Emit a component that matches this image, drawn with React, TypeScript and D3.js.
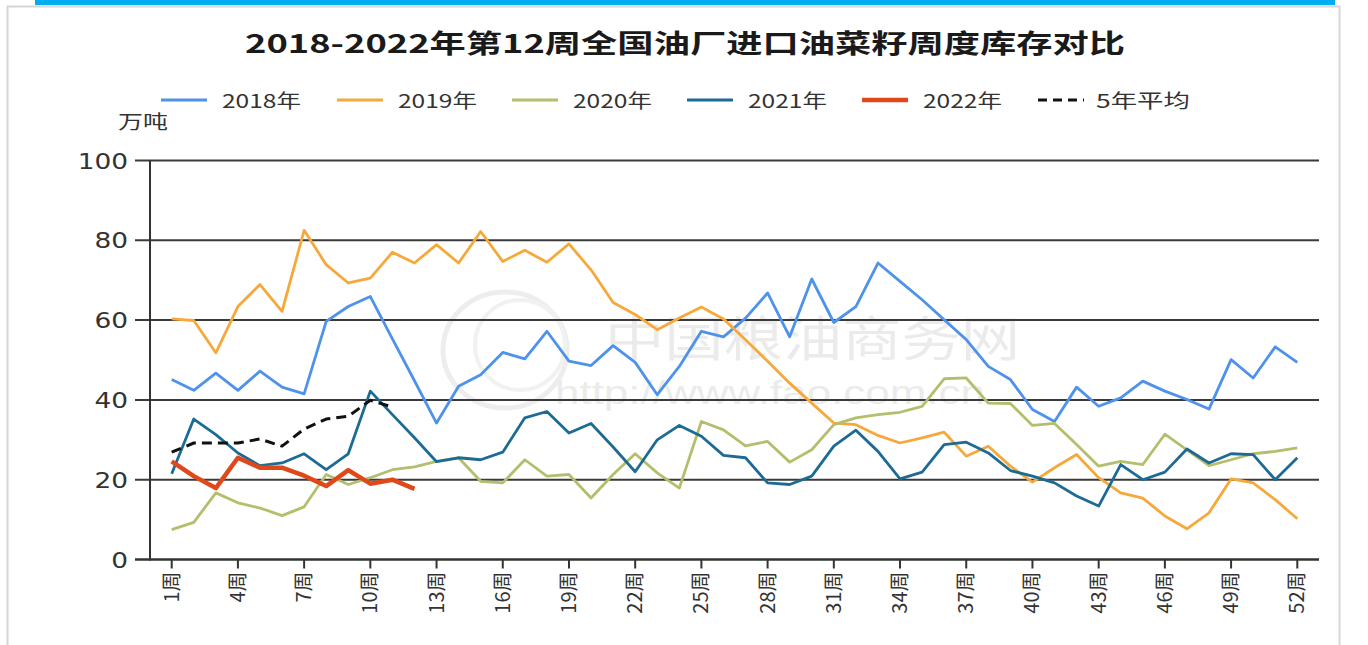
import React from "react";
import * as d3 from "d3";

const weeks: number[] = d3.range(1, 53);
const tickWeeks: number[] = [1, 4, 7, 10, 13, 16, 19, 22, 25, 28, 31, 34, 37, 40, 43, 46, 49, 52];
const yTicks: number[] = [0, 20, 40, 60, 80, 100];

const y2018: number[] = [45.1, 42.4, 46.7, 42.4, 47.2, 43.2, 41.5, 59.7, 63.4, 65.9, 55.3, 44.8, 34.2, 43.4, 46.3, 51.9, 50.3, 57.2, 49.7, 48.6, 53.6, 49.4, 41.3, 48.4, 57.2, 55.8, 60.5, 66.8, 55.8, 70.3, 59.4, 63.4, 74.3, 69.7, 65.1, 60.1, 55.1, 48.4, 45.1, 37.6, 34.6, 43.2, 38.4, 40.5, 44.7, 42.2, 40.1, 37.7, 50.1, 45.5, 53.3, 49.4];
const y2019: number[] = [60.3, 59.9, 51.8, 63.4, 68.9, 62.2, 82.5, 73.9, 69.3, 70.5, 77.0, 74.3, 78.9, 74.3, 82.2, 74.7, 77.5, 74.5, 79.1, 72.6, 64.4, 61.4, 57.6, 60.5, 63.3, 60.3, 55.1, 49.7, 44.2, 39.2, 34.2, 33.8, 31.1, 29.2, 30.5, 31.9, 25.9, 28.4, 23.4, 19.4, 23.0, 26.3, 20.5, 16.7, 15.4, 10.9, 7.7, 11.7, 20.2, 19.2, 15.0, 10.2];
const y2020: number[] = [7.5, 9.3, 16.7, 14.2, 12.9, 11.0, 13.2, 21.3, 18.8, 20.5, 22.5, 23.2, 24.6, 25.5, 19.6, 19.2, 25.0, 20.9, 21.3, 15.4, 21.3, 26.5, 21.7, 17.9, 34.6, 32.5, 28.5, 29.6, 24.4, 27.5, 33.8, 35.5, 36.3, 36.9, 38.4, 45.3, 45.5, 39.2, 39.1, 33.6, 34.1, 28.8, 23.4, 24.6, 23.8, 31.4, 27.5, 23.5, 25.0, 26.5, 27.1, 28.0];
const y2021: number[] = [21.5, 35.2, 31.3, 26.7, 23.5, 24.2, 26.5, 22.5, 26.5, 42.2, 36.3, 30.5, 24.5, 25.5, 25.0, 26.9, 35.5, 37.1, 31.7, 34.1, 28.2, 22.0, 30.0, 33.6, 30.9, 26.1, 25.5, 19.2, 18.8, 20.9, 28.4, 32.4, 27.1, 20.2, 21.9, 28.8, 29.4, 26.7, 22.3, 20.9, 19.2, 15.9, 13.4, 23.8, 20.0, 21.9, 27.7, 24.2, 26.5, 26.3, 20.0, 25.5];
const y2022: number[] = [24.6, 20.9, 17.9, 25.5, 23.0, 23.0, 21.0, 18.4, 22.4, 19.0, 20.0, 17.7];
const avg5: number[] = [26.9, 29.2, 29.2, 29.2, 30.2, 28.4, 32.7, 35.2, 35.9, 39.9, 38.2];

const seriesNames: string[] = ["2018年", "2019年", "2020年", "2021年", "2022年", "5年平均"];
const seriesData: number[][] = [y2018, y2019, y2020, y2021, y2022, avg5];
const seriesColors: string[] = ["#4E92EC", "#F6A93A", "#B4BE6C", "#1C6B95", "#E0481A", "#111111"];
const seriesWidths: number[] = [2.8, 2.8, 2.8, 2.8, 4.5, 3];
const seriesDash: (string | undefined)[] = [undefined, undefined, undefined, undefined, undefined, "10,6"];

const title = "2018-2022年第12周全国油厂进口油菜籽周度库存对比";
const yUnit = "万吨";

const FONT = "'Noto Sans CJK SC', 'Liberation Sans', Arial, sans-serif";

export default function App() {
  const x = d3.scaleLinear().domain([1, 52]).range([171.7, 1297.3]);
  const y = d3.scaleLinear().domain([0, 100]).range([559.5, 160.5]);
  const plotLeft = 150;
  const plotRight = 1319;

  const lineGen = d3
    .line<number>()
    .x((_, i) => x(weeks[i]))
    .y((d) => y(d));

  const legendLineX = [161, 337, 512, 687, 862, 1038];
  const legendTextX = [222, 398, 573, 748, 923, 1096];
  const legendTextLen = [79, 79, 79, 79, 79, 94];

  return (
    <svg
      width={1368}
      height={645}
      style={{ position: "absolute", left: 0, top: 0, display: "block", background: "#fff" }}
      fontFamily={FONT}
    >
      <rect x={0} y={0} width={1368} height={645} fill="#ffffff" />
      <rect x={7.5} y={6.5} width={1332} height={660} fill="#ffffff" stroke="#d6d6d6" strokeWidth={2} />
      <rect x={35} y={0} width={1300} height={5} fill="#00AEEF" />

      {/* watermark */}
      <g opacity={0.45}>
        <ellipse cx={505} cy={350} rx={62} ry={58} fill="none" stroke="#d9d9d9" strokeWidth={5} />
        <ellipse cx={520} cy={345} rx={45} ry={45} fill="none" stroke="#e2e2e2" strokeWidth={4} />
        <text x={605} y={356} fontSize={48} fill="#d4d4d4" textLength={415} lengthAdjust="spacingAndGlyphs">
          中国粮油商务网
        </text>
        <text x={555} y={404} fontSize={34} fill="#d4d4d4" textLength={430} lengthAdjust="spacingAndGlyphs" fontFamily="'Liberation Sans', Arial, sans-serif">
          http://www.fao.com.cn
        </text>
      </g>

      {/* title */}
      <text
        x={245}
        y={53}
        fontSize={26}
        fontWeight="bold"
        fill="#1a1a1a"
        textLength={880}
        lengthAdjust="spacingAndGlyphs"
      >
        {title}
      </text>

      {/* legend */}
      {seriesNames.map((name, i) => (
        <g key={name}>
          <line
            x1={legendLineX[i]}
            x2={legendLineX[i] + 46}
            y1={100}
            y2={100}
            stroke={seriesColors[i]}
            strokeWidth={i === 4 ? 4.5 : 3}
            strokeDasharray={i === 5 ? "9,6" : undefined}
          />
          <text
            x={legendTextX[i]}
            y={108}
            fontSize={19}
            fill="#333"
            textLength={legendTextLen[i]}
            lengthAdjust="spacingAndGlyphs"
          >
            {name}
          </text>
        </g>
      ))}

      {/* unit */}
      <text x={118} y={129} fontSize={19} fill="#333" textLength={50} lengthAdjust="spacingAndGlyphs">
        {yUnit}
      </text>

      {/* gridlines and y ticks */}
      {yTicks.map((t) => (
        <g key={t}>
          <line x1={135} x2={plotRight} y1={y(t)} y2={y(t)} stroke="#3a3a3a" strokeWidth={2} />
          <g transform={`translate(128,${y(t) + 8})`}>
            <text
              fontSize={22}
              fill="#333"
              textAnchor="end"
              transform="scale(1.2,1)"
              fontFamily="'DejaVu Sans', 'Liberation Sans', sans-serif"
            >
              {t}
            </text>
          </g>
        </g>
      ))}

      {/* axes */}
      <line x1={plotLeft} x2={plotLeft} y1={y(100)} y2={y(0) + 1} stroke="#333" strokeWidth={2} />
      <line x1={135} x2={plotRight} y1={y(0)} y2={y(0)} stroke="#333" strokeWidth={2} />

      {/* x ticks */}
      {tickWeeks.map((w) => (
        <g key={w}>
          <line x1={x(w)} x2={x(w)} y1={y(0)} y2={y(0) + 9} stroke="#333" strokeWidth={2} />
          <text
            transform={`translate(${x(w) + 7},${y(0) + 12}) rotate(-90)`}
            fontSize={20}
            fill="#333"
            textAnchor="end"
          >
            {`${w}周`}
          </text>
        </g>
      ))}

      {/* series */}
      {seriesData.map((data, i) => (
        <path
          key={seriesNames[i]}
          d={lineGen(data) || ""}
          fill="none"
          stroke={seriesColors[i]}
          strokeWidth={seriesWidths[i]}
          strokeDasharray={seriesDash[i]}
          strokeLinejoin="round"
        />
      ))}
    </svg>
  );
}
